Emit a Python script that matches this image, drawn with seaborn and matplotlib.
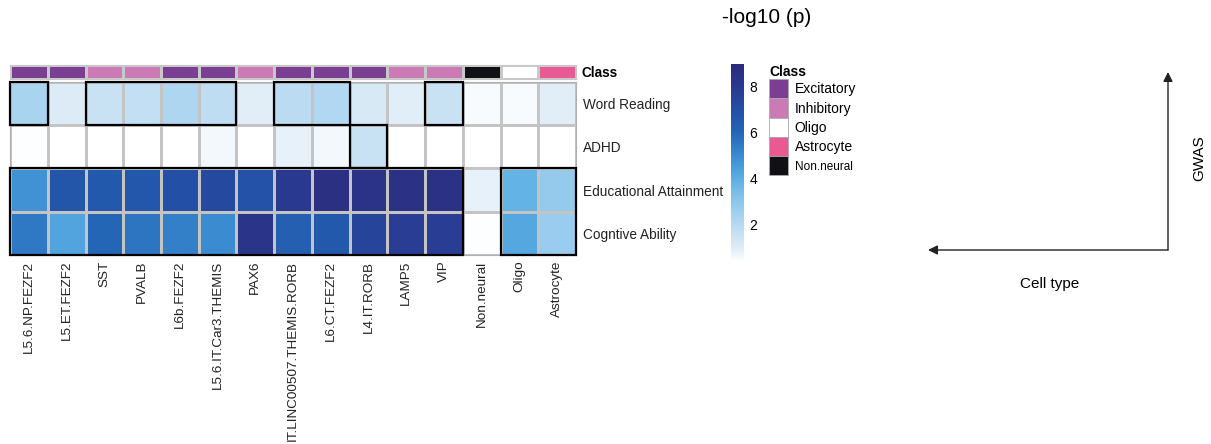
import numpy as np
import pandas as pd
import matplotlib
matplotlib.use("Agg")
import matplotlib.pyplot as plt
import seaborn as sns
from matplotlib.colors import LinearSegmentedColormap, ListedColormap
from matplotlib.patches import Rectangle, Patch

# =========================================
# Data
# =========================================
cell_types = ["L5.6.NP.FEZF2", "L5.ET.FEZF2", "SST", "PVALB", "L6b.FEZF2",
              "L5.6.IT.Car3.THEMIS", "PAX6", "IT.LINC00507.THEMIS.RORB",
              "L6.CT.FEZF2", "L4.IT.RORB", "LAMP5", "VIP", "Non.neural",
              "Oligo", "Astrocyte"]
cell_class = ["Excitatory", "Excitatory", "Inhibitory", "Inhibitory", "Excitatory",
              "Excitatory", "Inhibitory", "Excitatory", "Excitatory", "Excitatory",
              "Inhibitory", "Inhibitory", "Non.neural", "Oligo", "Astrocyte"]
gwas = ["Word Reading", "ADHD", "Educational Attainment", "Cogntive Ability"]

word_reading = [2.3, 1.0, 1.5, 1.7, 2.2, 1.8, 0.9, 1.9, 2.1, 1.1, 0.9, 1.5, 0.5, 0.5, 0.9]
adhd = [0.4, 0.2, 0.0, 0.2, 0.1, 0.6, 0.2, 0.8, 0.6, 1.5, 0.0, 0.2, 0.0, 0.0, 0.0]
edu_attain = [4.8, 6.8, 6.6, 6.7, 7.0, 7.3, 6.9, 8.0, 8.6, 8.4, 8.5, 8.5, 0.8, 3.8, 2.8]
cog_ability = [5.5, 4.3, 6.0, 5.6, 5.3, 5.0, 8.3, 6.3, 6.6, 7.5, 7.8, 7.8, 0.4, 4.2, 2.7]

# significant blocks: (first row, last row, first col, last col)
sig_blocks = [(0, 0, 0, 0), (0, 0, 2, 5), (0, 0, 7, 8), (0, 0, 11, 11),
              (1, 1, 9, 9), (2, 3, 0, 11), (2, 3, 13, 14)]

class_names = ["Excitatory", "Inhibitory", "Oligo", "Astrocyte", "Non.neural"]
class_colors = ["#7a3f93", "#cc7ab5", "#ffffff", "#e95a92", "#111115"]

df = pd.DataFrame([word_reading, adhd, edu_attain, cog_ability],
                  index=gwas, columns=cell_types)
class_df = pd.DataFrame([[class_names.index(c) for c in cell_class]],
                        index=["Class"], columns=cell_types)

# =========================================
# Plot
# =========================================
plt.rcParams["font.family"] = ["Liberation Sans", "DejaVu Sans"]
fig = plt.figure(figsize=(12.11, 4.44), dpi=100)

vmin, vmax = 0.35, 9.0
stops = [(0.35, "#ffffff"), (1.0, "#dcebf6"), (2.0, "#b5d9f2"), (3.0, "#8cc6ec"),
         (4.0, "#5aaee2"), (5.0, "#3a8bd0"), (6.0, "#2466b6"), (7.0, "#2350a6"),
         (8.0, "#29398f"), (9.0, "#2c2a7c")]
blues = LinearSegmentedColormap.from_list(
    "blues", [((v - vmin) / (vmax - vmin), c) for v, c in stops])

ax = fig.add_axes([0.0083, 0.4257, 0.4674, 0.3896])
cax = fig.add_axes([0.6036, 0.41, 0.0107, 0.446])
sns.heatmap(df, ax=ax, cmap=blues, vmin=vmin, vmax=vmax, linewidths=0.8,
            linecolor="#c4c4c4", cbar_ax=cax, xticklabels=True, yticklabels=True)
ax.yaxis.tick_right()
ax.set_yticklabels(gwas, rotation=0, fontsize=9.8, color="#222222")
ax.set_xticklabels(cell_types, rotation=90, fontsize=9.7, color="#222222")
ax.tick_params(axis="x", length=0, pad=4)
ax.tick_params(axis="y", length=0, pad=5)
for s in ax.spines.values():
    s.set_visible(True)
    s.set_color("#b0b0b0")
    s.set_linewidth(0.8)

for r0, r1, c0, c1 in sig_blocks:
    ax.add_patch(Rectangle((c0, r0), c1 - c0 + 1, r1 - r0 + 1, fill=False,
                           edgecolor="black", lw=1.6, zorder=5, clip_on=False))

cax.tick_params(length=0, labelsize=10, pad=4)
cax.set_yticks([2, 4, 6, 8])
cbar = ax.collections[0].colorbar
cbar.outline.set_visible(False)

# class bar
cax2 = fig.add_axes([0.0083, 0.8221, 0.4674, 0.0315])
sns.heatmap(class_df, ax=cax2, cmap=ListedColormap(class_colors), vmin=-0.5,
            vmax=4.5, cbar=False, linewidths=0.8, linecolor="#c8c8c8",
            xticklabels=False, yticklabels=True)
cax2.yaxis.tick_right()
cax2.set_yticks([0.5])
cax2.set_yticklabels(["Class"], rotation=0, fontsize=9.8, fontweight="bold")
cax2.tick_params(length=0, pad=4)
for s in cax2.spines.values():
    s.set_visible(True)
    s.set_color("#c8c8c8")
    s.set_linewidth(0.8)

# legend
handles = [Patch(facecolor=c, edgecolor="#aaaaaa", lw=0.6) for c in class_colors]
leg = fig.legend(handles, class_names, loc="upper left",
                 bbox_to_anchor=(0.635, 0.853), frameon=False, fontsize=10,
                 title="Class", title_fontproperties={"weight": "bold", "size": 10},
                 handlelength=1.4, handleheight=1.75, labelspacing=0.0,
                 handletextpad=0.45, borderaxespad=0, borderpad=0)
leg._legend_box.align = "left"
leg.get_texts()[-1].set_fontsize(8.5)

fig.text(0.596, 0.96, "-log10 (p)", fontsize=15, ha="left", va="center")

# orientation arrows
ov = fig.add_axes([0, 0, 1, 1])
ov.set_xlim(0, 1211)
ov.set_ylim(444, 0)
ov.axis("off")
ov.annotate("", xy=(1168, 72), xytext=(1168, 250),
            arrowprops=dict(arrowstyle="-|>", color="#222222", lw=1, mutation_scale=14,
                            shrinkA=0, shrinkB=0))
ov.annotate("", xy=(928, 250), xytext=(1168, 250),
            arrowprops=dict(arrowstyle="-|>", color="#222222", lw=1, mutation_scale=14,
                            shrinkA=0, shrinkB=0))
ov.text(1050, 284, "Cell type", fontsize=11, ha="center", va="center")
ov.text(1199, 158, "GWAS", fontsize=11, ha="center", va="center", rotation=90)

fig.savefig("out.png", dpi=100)
